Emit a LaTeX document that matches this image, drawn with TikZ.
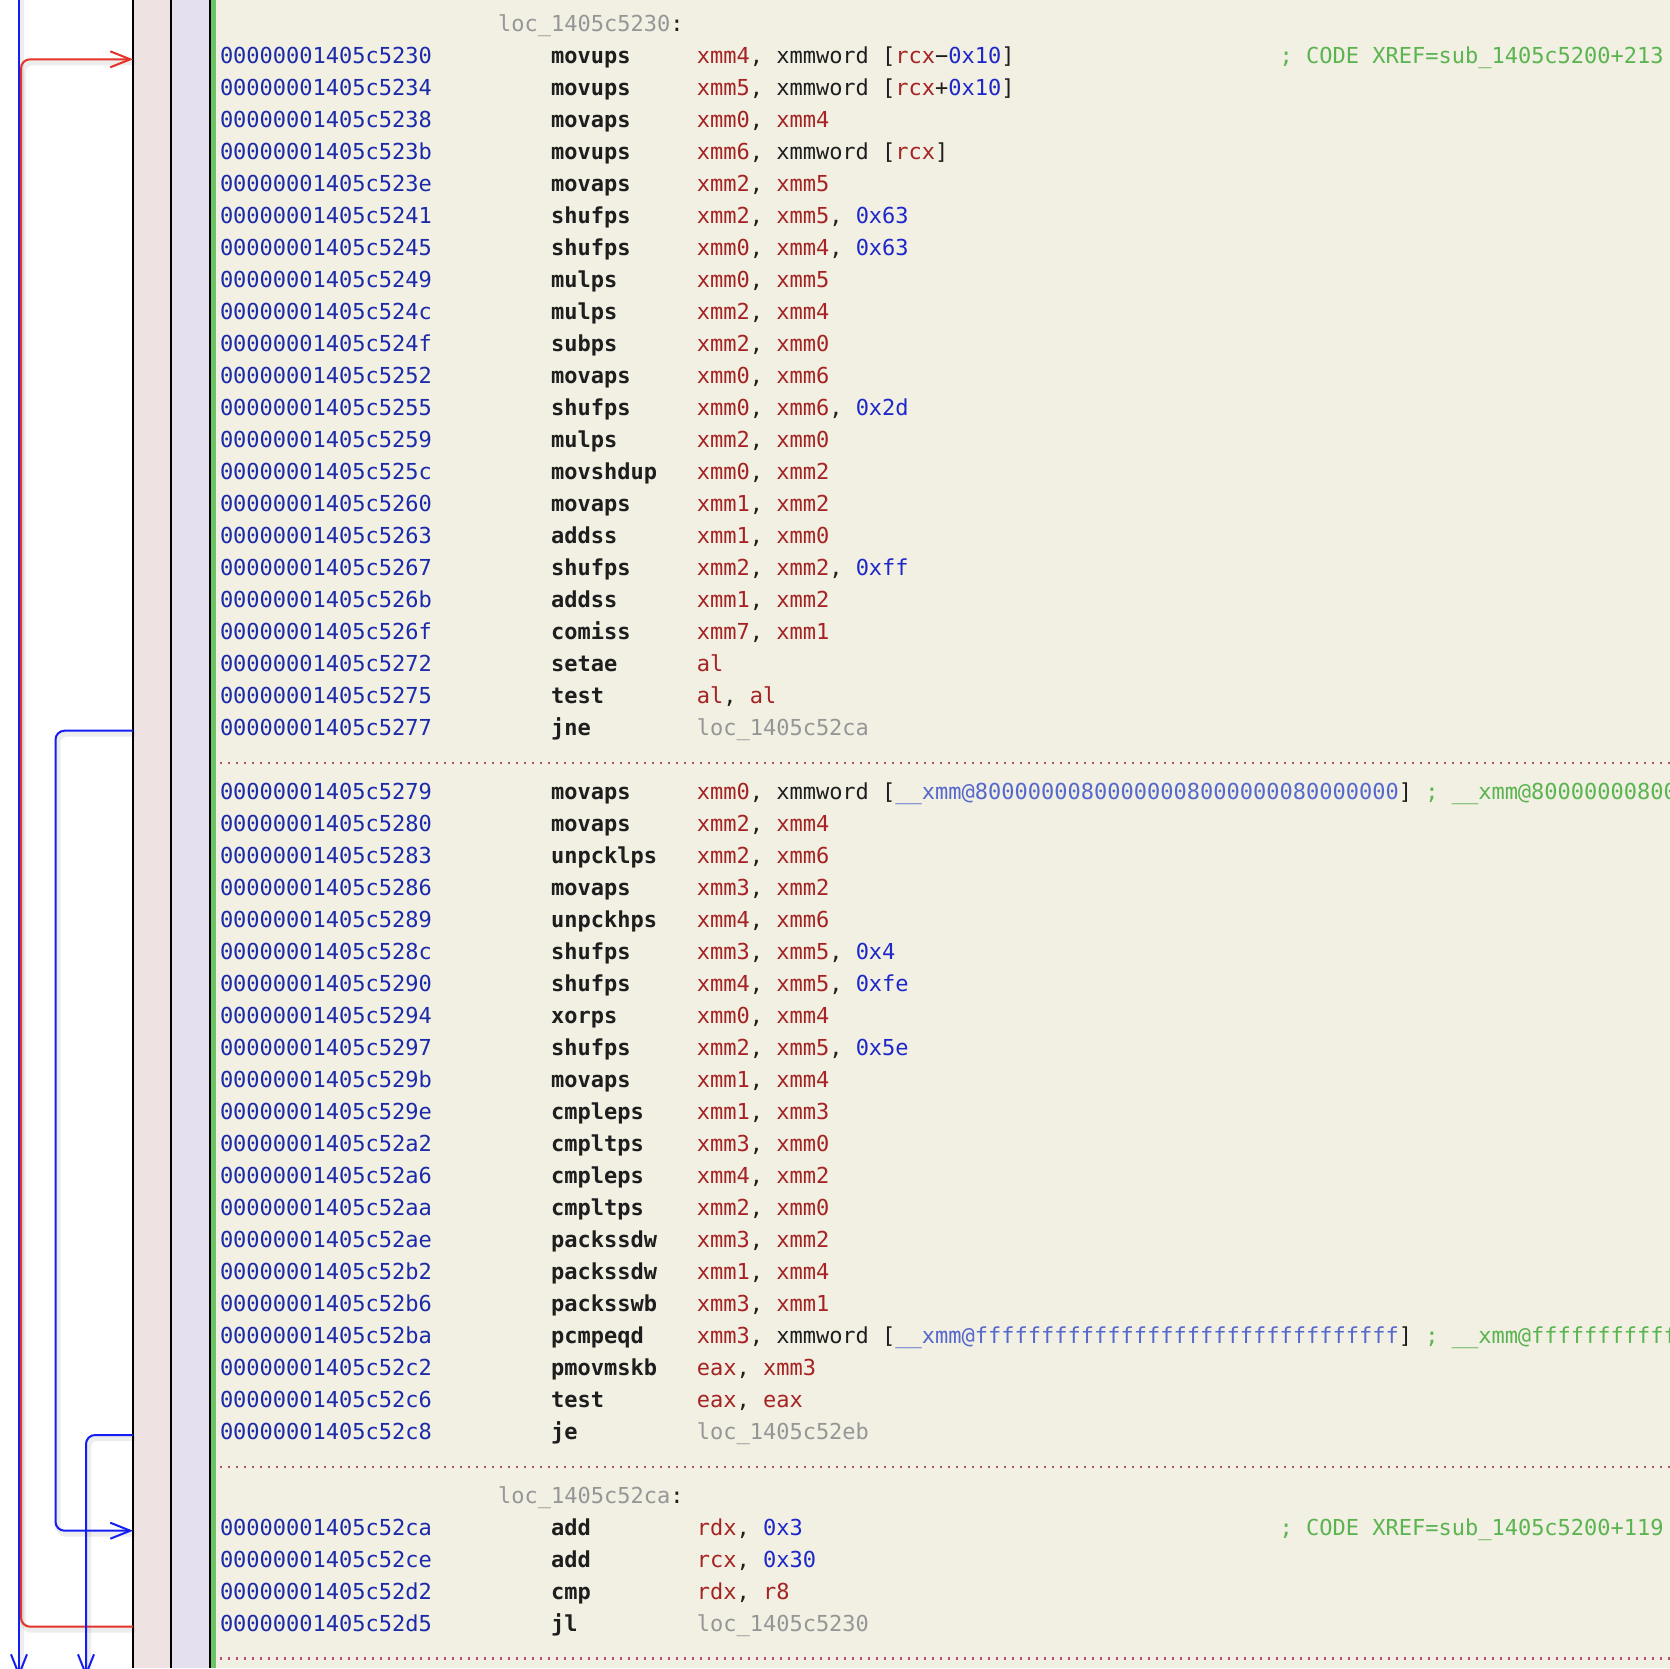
\documentclass[tikz,border=0pt]{standalone}
\usepackage{fontspec}
\setmonofont{DejaVu Sans Mono}
\usetikzlibrary{arrows.meta}
\definecolor{addrc}{RGB}{26,42,168}
\definecolor{regc}{RGB}{165,35,35}
\definecolor{numc}{RGB}{30,40,200}
\definecolor{locc}{RGB}{150,150,150}
\definecolor{symc}{RGB}{85,105,205}
\definecolor{cmtc}{RGB}{90,180,80}
\definecolor{inkc}{RGB}{30,30,30}
\definecolor{beigec}{RGB}{242,239,227}
\definecolor{pinkc}{RGB}{238,226,226}
\definecolor{lavc}{RGB}{228,224,240}
\definecolor{barc}{RGB}{108,196,104}
\definecolor{dotc}{RGB}{180,80,120}
\definecolor{jmpblue}{RGB}{20,30,240}
\definecolor{jmpred}{RGB}{230,50,40}
\newcommand\asmR[1]{\textcolor{regc}{#1}}
\newcommand\asmN[1]{\textcolor{numc}{#1}}
\newcommand\asmL[1]{\textcolor{locc}{#1}}
\newcommand\asmS[1]{\textcolor{symc}{#1}}
\newcommand\asmC[1]{\textcolor{cmtc}{#1}}
\tikzset{
  asmtxt/.style={inner sep=0pt, outer sep=0pt, anchor=base west, text=inkc,
    font=\ttfamily\fontsize{22}{26}\selectfont},
  asmaddr/.style={asmtxt, text=addrc},
  asmmnem/.style={asmtxt, font=\ttfamily\bfseries\fontsize{22}{26}\selectfont},
  sepline/.style={dotc, line width=2.3pt, dash pattern=on 2.3pt off 5.7pt},
  jmpline/.style={line width=2pt, rounded corners=9pt,
    -{Straight Barb[length=20pt,width=16pt,line width=2pt]}},
  bluejmp/.style={jmpline, jmpblue},
  redjmp/.style={jmpline, jmpred},
  jmpshadow/.style={line width=6pt, black, opacity=0.07, rounded corners=9pt,
    transform canvas={xshift=2pt,yshift=-3pt}},
  vrule/.style={line width=2pt, black}
}
\newcommand\asmrow[4]{%
  \node[asmaddr] (a#1) at (220,{63.3+32*#1}) {00000001405c#2};
  \node[asmmnem] (m#1) at (551.1,{63.3+32*#1}) {#3};
  \node[asmtxt] (o#1) at (696.8,{63.3+32*#1}) {#4};
}
\begin{document}
\begin{tikzpicture}[x=1pt,y=-1pt]
\useasboundingbox (0,0) rectangle (1670,1668);
\clip (0,0) rectangle (1670,1668);
% backgrounds
\fill[white] (0,0) rectangle (133,1668);
\fill[pinkc] (133,0) rectangle (171,1668);
\fill[lavc] (171,0) rectangle (210,1668);
\fill[barc] (210,0) rectangle (216,1668);
\fill[beigec] (216,0) rectangle (1670,1668);
\draw[vrule] (133.3,0) -- (133.3,1668);
\draw[vrule] (171,0) -- (171,1668);
\draw[vrule] (210,0) -- (210,1668);
% jump endpoints
\coordinate (thrTop) at (19,-5);
\coordinate (thrBot) at (19,1677);
\coordinate (s49) at (133,1626.7);
\coordinate (t0) at (133,59.3);
\coordinate (s21) at (133,730.7);
\coordinate (t46) at (133,1530.7);
\coordinate (s43) at (133,1435);
\coordinate (jeBot) at (86,1677);
% shadows
\draw[jmpshadow] (thrTop) -- (thrBot);
\draw[jmpshadow] (s49) -- (21,1626.7) -- (21,59.3) -- (t0);
\draw[jmpshadow] (s21) -- (55.5,730.7) -- (55.5,1530.7) -- (t46);
\draw[jmpshadow] (s43) -- (86,1435) -- (jeBot);
% jumps
\draw[bluejmp] (thrTop) -- (thrBot);
\draw[redjmp] (s49) -- (21,1626.7) -- (21,59.3) -- (t0);
\draw[bluejmp] (s21) -- (55.5,730.7) -- (55.5,1530.7) -- (t46);
\draw[bluejmp] (s43) -- (86,1435) -- (jeBot);
% labels
\node[asmtxt] (lbl1) at (498.1,31.3) {\asmL{loc\_1405c5230}:};
\node[asmtxt] (lbl2) at (498.1,{63.3+32*45}) {\asmL{loc\_1405c52ca}:};
% block 1
\asmrow{0}{5230}{movups}{\asmR{xmm4}, xmmword [\asmR{rcx}−\asmN{0x10}]}
\node[asmtxt] (c0) at (1279.6,63.3) {\asmC{; CODE XREF=sub\_1405c5200+213}};
\asmrow{1}{5234}{movups}{\asmR{xmm5}, xmmword [\asmR{rcx}+\asmN{0x10}]}
\asmrow{2}{5238}{movaps}{\asmR{xmm0}, \asmR{xmm4}}
\asmrow{3}{523b}{movups}{\asmR{xmm6}, xmmword [\asmR{rcx}]}
\asmrow{4}{523e}{movaps}{\asmR{xmm2}, \asmR{xmm5}}
\asmrow{5}{5241}{shufps}{\asmR{xmm2}, \asmR{xmm5}, \asmN{0x63}}
\asmrow{6}{5245}{shufps}{\asmR{xmm0}, \asmR{xmm4}, \asmN{0x63}}
\asmrow{7}{5249}{mulps}{\asmR{xmm0}, \asmR{xmm5}}
\asmrow{8}{524c}{mulps}{\asmR{xmm2}, \asmR{xmm4}}
\asmrow{9}{524f}{subps}{\asmR{xmm2}, \asmR{xmm0}}
\asmrow{10}{5252}{movaps}{\asmR{xmm0}, \asmR{xmm6}}
\asmrow{11}{5255}{shufps}{\asmR{xmm0}, \asmR{xmm6}, \asmN{0x2d}}
\asmrow{12}{5259}{mulps}{\asmR{xmm2}, \asmR{xmm0}}
\asmrow{13}{525c}{movshdup}{\asmR{xmm0}, \asmR{xmm2}}
\asmrow{14}{5260}{movaps}{\asmR{xmm1}, \asmR{xmm2}}
\asmrow{15}{5263}{addss}{\asmR{xmm1}, \asmR{xmm0}}
\asmrow{16}{5267}{shufps}{\asmR{xmm2}, \asmR{xmm2}, \asmN{0xff}}
\asmrow{17}{526b}{addss}{\asmR{xmm1}, \asmR{xmm2}}
\asmrow{18}{526f}{comiss}{\asmR{xmm7}, \asmR{xmm1}}
\asmrow{19}{5272}{setae}{\asmR{al}}
\asmrow{20}{5275}{test}{\asmR{al}, \asmR{al}}
\asmrow{21}{5277}{jne}{\asmL{loc\_1405c52ca}}
\draw[sepline] (220,762.7) -- (1670,762.7);
% block 2
\asmrow{23}{5279}{movaps}{\asmR{xmm0}, xmmword [\asmS{\_\_xmm@80000000800000008000000080000000}] \asmC{; \_\_xmm@80000000800000008000000080000000}}
\asmrow{24}{5280}{movaps}{\asmR{xmm2}, \asmR{xmm4}}
\asmrow{25}{5283}{unpcklps}{\asmR{xmm2}, \asmR{xmm6}}
\asmrow{26}{5286}{movaps}{\asmR{xmm3}, \asmR{xmm2}}
\asmrow{27}{5289}{unpckhps}{\asmR{xmm4}, \asmR{xmm6}}
\asmrow{28}{528c}{shufps}{\asmR{xmm3}, \asmR{xmm5}, \asmN{0x4}}
\asmrow{29}{5290}{shufps}{\asmR{xmm4}, \asmR{xmm5}, \asmN{0xfe}}
\asmrow{30}{5294}{xorps}{\asmR{xmm0}, \asmR{xmm4}}
\asmrow{31}{5297}{shufps}{\asmR{xmm2}, \asmR{xmm5}, \asmN{0x5e}}
\asmrow{32}{529b}{movaps}{\asmR{xmm1}, \asmR{xmm4}}
\asmrow{33}{529e}{cmpleps}{\asmR{xmm1}, \asmR{xmm3}}
\asmrow{34}{52a2}{cmpltps}{\asmR{xmm3}, \asmR{xmm0}}
\asmrow{35}{52a6}{cmpleps}{\asmR{xmm4}, \asmR{xmm2}}
\asmrow{36}{52aa}{cmpltps}{\asmR{xmm2}, \asmR{xmm0}}
\asmrow{37}{52ae}{packssdw}{\asmR{xmm3}, \asmR{xmm2}}
\asmrow{38}{52b2}{packssdw}{\asmR{xmm1}, \asmR{xmm4}}
\asmrow{39}{52b6}{packsswb}{\asmR{xmm3}, \asmR{xmm1}}
\asmrow{40}{52ba}{pcmpeqd}{\asmR{xmm3}, xmmword [\asmS{\_\_xmm@ffffffffffffffffffffffffffffffff}] \asmC{; \_\_xmm@ffffffffffffffffffffffffffffffff}}
\asmrow{41}{52c2}{pmovmskb}{\asmR{eax}, \asmR{xmm3}}
\asmrow{42}{52c6}{test}{\asmR{eax}, \asmR{eax}}
\asmrow{43}{52c8}{je}{\asmL{loc\_1405c52eb}}
\draw[sepline] (220,1466.7) -- (1670,1466.7);
% block 3
\asmrow{46}{52ca}{add}{\asmR{rdx}, \asmN{0x3}}
\node[asmtxt] (c46) at (1279.6,{63.3+32*46}) {\asmC{; CODE XREF=sub\_1405c5200+119}};
\asmrow{47}{52ce}{add}{\asmR{rcx}, \asmN{0x30}}
\asmrow{48}{52d2}{cmp}{\asmR{rdx}, \asmR{r8}}
\asmrow{49}{52d5}{jl}{\asmL{loc\_1405c5230}}
\draw[sepline] (220,1658.5) -- (1670,1658.5);
\end{tikzpicture}
\end{document}
